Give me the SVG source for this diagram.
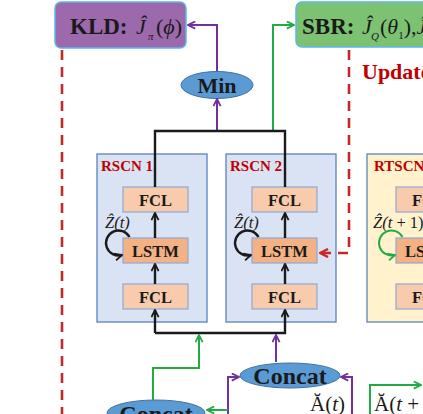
<svg xmlns="http://www.w3.org/2000/svg" width="423" height="414" viewBox="0 0 423 414">
<defs>
<style>
.t{font-family:"Liberation Serif","Times New Roman",serif;}
.b{font-weight:bold;}
.i{font-style:italic;}
.box{stroke:#5BB8E8;stroke-width:1.5;}
.rscn{fill:#DAE3F3;stroke:#5B82BE;stroke-width:1.3;}
.rt{fill:#FFF2CC;stroke:#5B82BE;stroke-width:1.3;}
.fcl{fill:#F8CBAD;stroke:#8EA9D4;stroke-width:1.2;}
.lstm{fill:#F4B183;stroke:#8EA9D4;stroke-width:1.2;}
.ell{fill:#5B9BD5;stroke:#41719C;stroke-width:1;}
.k{stroke:#1A1A1A;stroke-width:2.4;fill:none;}
.p{stroke:#7030A0;stroke-width:2;fill:none;}
.g{stroke:#22AA44;stroke-width:2;fill:none;}
.r{stroke:#C62828;stroke-width:2.6;fill:none;stroke-dasharray:10,7;}
.lbl{font-size:16.5px;text-anchor:middle;fill:#1A1A1A;}
.z{font-size:16.5px;fill:#1A1A1A;}
.red{fill:#C00000;}
</style>
<marker id="ak" viewBox="0 0 10 10" refX="9" refY="5" markerWidth="9" markerHeight="9" markerUnits="userSpaceOnUse" orient="auto"><path d="M1,1 L9,5 L1,9" fill="none" stroke="#1A1A1A" stroke-width="2"/></marker>
<marker id="ap" viewBox="0 0 10 10" refX="9" refY="5" markerWidth="9" markerHeight="9" markerUnits="userSpaceOnUse" orient="auto"><path d="M1,1 L9,5 L1,9" fill="none" stroke="#7030A0" stroke-width="2"/></marker>
<marker id="ag" viewBox="0 0 10 10" refX="9" refY="5" markerWidth="9" markerHeight="9" markerUnits="userSpaceOnUse" orient="auto"><path d="M1,1 L9,5 L1,9" fill="none" stroke="#22AA44" stroke-width="2"/></marker>
<marker id="ar" viewBox="0 0 10 10" refX="9" refY="5" markerWidth="10" markerHeight="10" markerUnits="userSpaceOnUse" orient="auto"><path d="M1,1 L9,5 L1,9" fill="none" stroke="#C62828" stroke-width="2.4"/></marker>
</defs>
<rect width="423" height="414" fill="#FFFFFF"/>

<g id="kld">
<rect class="box" x="55" y="2" width="131" height="46" rx="6" fill="#9B69AC"/>
<text class="t b" x="70" y="34" font-size="23" fill="#1A1A1A">KLD:</text>
<text class="t" y="34" font-size="22" fill="#1A1A1A"><tspan class="i" x="136">Ĵ</tspan><tspan x="148" y="40" font-size="11" class="i">π</tspan><tspan x="156" y="34">(</tspan><tspan class="i">ϕ</tspan><tspan>)</tspan></text>
</g>

<g id="sbr">
<rect class="box" x="296" y="2" width="140" height="45" rx="6" fill="#7CC272"/>
<text class="t b" x="302" y="34" font-size="23" fill="#1A1A1A">SBR:</text>
<text class="t" y="34" font-size="22" fill="#1A1A1A"><tspan class="i" x="362">Ĵ</tspan><tspan x="371" y="40" font-size="11" class="i">Q</tspan><tspan x="380" y="34">(</tspan><tspan class="i">θ</tspan><tspan font-size="11" y="39">1</tspan><tspan y="34">),</tspan><tspan class="i">Ĵ</tspan></text>
</g>

<g id="update">
<text class="t b red" x="362" y="79" font-size="22">Update</text>
</g>

<g id="min">
<ellipse class="ell" cx="217" cy="85" rx="36" ry="13.5"/>
<text class="t b" x="217" y="93" font-size="22" text-anchor="middle" fill="#1A1A1A">Min</text>
</g>

<g id="rscn1">
<rect class="rscn" x="97" y="154" width="110" height="168"/>
<text class="t b red" x="101" y="171" font-size="15">RSCN 1</text>
<rect class="fcl" x="123" y="187" width="65" height="25"/>
<text class="t b lbl" x="155.5" y="205.5">FCL</text>
<rect class="lstm" x="123" y="238" width="65" height="25"/>
<text class="t b lbl" x="155.5" y="256.5">LSTM</text>
<rect class="fcl" x="123" y="284" width="65" height="25"/>
<text class="t b lbl" x="155.5" y="302.5">FCL</text>
<text class="t i z" x="105" y="228">Ẑ(t)</text>
</g>

<g id="rscn2">
<rect class="rscn" x="226" y="154" width="110" height="168"/>
<text class="t b red" x="230" y="171" font-size="15">RSCN 2</text>
<rect class="fcl" x="252" y="187" width="65" height="25"/>
<text class="t b lbl" x="284.5" y="205.5">FCL</text>
<rect class="lstm" x="252" y="238" width="65" height="25"/>
<text class="t b lbl" x="284.5" y="256.5">LSTM</text>
<rect class="fcl" x="252" y="284" width="65" height="25"/>
<text class="t b lbl" x="284.5" y="302.5">FCL</text>
<text class="t i z" x="234" y="228">Ẑ(t)</text>
</g>

<g id="rtscn">
<rect class="rt" x="367" y="154" width="110" height="168"/>
<text class="t b red" x="374" y="171" font-size="15">RTSCN</text>
<rect class="fcl" x="396" y="187" width="65" height="25"/>
<text class="t b lbl" x="428.5" y="205.5">FCL</text>
<rect class="lstm" x="396" y="238" width="65" height="25"/>
<text class="t b lbl" x="428.5" y="256.5">LSTM</text>
<rect class="fcl" x="396" y="284" width="65" height="25"/>
<text class="t b lbl" x="428.5" y="302.5">FCL</text>
<text class="t z" x="373" y="228"><tspan class="i">Ẑ(t</tspan> + 1)</text>
</g>

<g id="concat1">
<ellipse class="ell" cx="290" cy="375.5" rx="50" ry="12.5"/>
<text class="t b" x="290" y="384" font-size="24" text-anchor="middle" fill="#1A1A1A">Concat</text>
</g>

<g id="concat2">
<ellipse class="ell" cx="156" cy="413" rx="49" ry="13"/>
<text class="t b" x="156" y="422" font-size="24" text-anchor="middle" fill="#1A1A1A">Concat</text>
</g>

<g id="labels">
<text class="t" x="310" y="411" font-size="21" fill="#1A1A1A">Ă(<tspan class="i">t</tspan>)</text>
<text class="t" x="374" y="411" font-size="21" fill="#1A1A1A">Ă(<tspan class="i">t</tspan> + 1</text>
</g>

<g id="connectors">
<path class="r" d="M62,50 L62,414"/>
<path class="r" d="M349,50 L349,253 L320,253" marker-end="url(#ar)"/>
<path class="p" d="M217,71 L217,25 L188,25" marker-end="url(#ap)"/>
<path class="p" d="M217,131 L217,99" marker-end="url(#ap)"/>
<path class="g" d="M273,131 L273,25 L294,25" marker-end="url(#ag)"/>
<path class="k" d="M155,187 L155,131 L285,131 L285,187"/>
<path class="k" d="M155,238 L155,213" marker-end="url(#ak)"/>
<path class="k" d="M155,284 L155,264" marker-end="url(#ak)"/>
<path class="k" d="M285,238 L285,213" marker-end="url(#ak)"/>
<path class="k" d="M285,284 L285,264" marker-end="url(#ak)"/>
<path class="g" d="M428,238 L428,213" marker-end="url(#ag)"/>
<path class="g" d="M428,284 L428,264" marker-end="url(#ag)"/>
<path class="k" d="M155,333 L285,333 L285,310" marker-end="url(#ak)"/>
<path class="k" d="M155,333 L155,310" marker-end="url(#ak)"/>
<path class="g" d="M153,400 L153,368 L199,368 L199,335" marker-end="url(#ag)"/>
<path class="p" d="M276,362 L276,335" marker-end="url(#ap)"/>
<path class="p" d="M228,414 L228,377 L239,377" marker-end="url(#ap)"/>
<path class="p" d="M352,414 L352,377 L341,377" marker-end="url(#ap)"/>
<path class="g" d="M228,410 L207,410" marker-end="url(#ag)"/>
<path class="g" d="M370,414 L370,385 L421,385" marker-end="url(#ag)"/>
<path class="k" stroke-width="2" d="M129.5,237 A12.5,12.5 0 1 0 122,255" marker-end="url(#ak)"/>
<path class="k" stroke-width="2" d="M258.5,237 A12.5,12.5 0 1 0 251,255" marker-end="url(#ak)"/>
<path class="g" d="M402.5,237 A12.5,12.5 0 1 0 395,255" marker-end="url(#ag)"/>
</g>
</svg>
